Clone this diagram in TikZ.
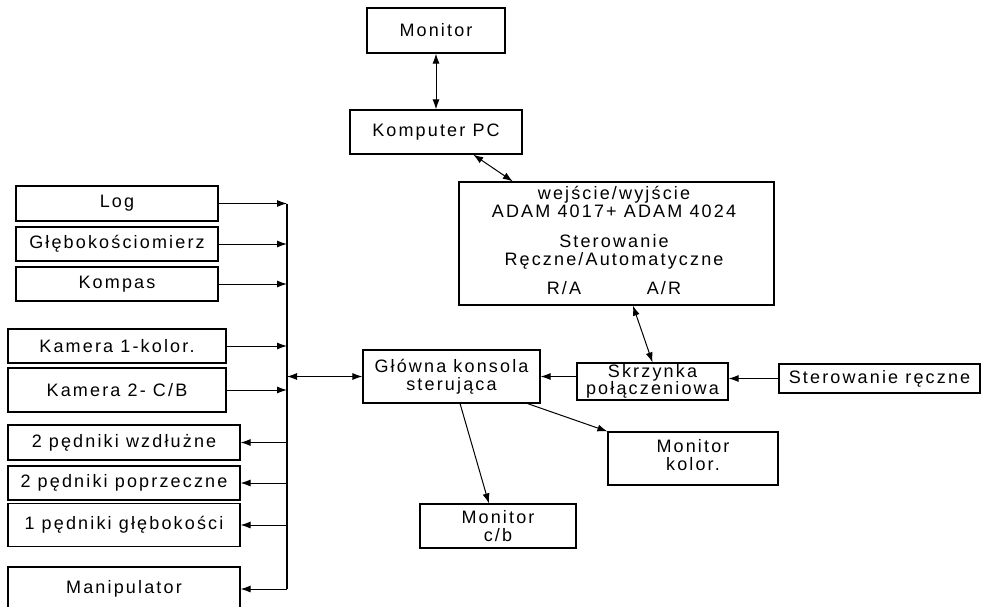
\documentclass[tikz,border=0pt]{standalone}
\usepackage{fontspec}
\setmainfont{Liberation Sans}[LetterSpace=12]
\usetikzlibrary{arrows.meta,calc}
\tikzset{
  box/.style={draw, line width=1.2pt, inner sep=0pt, align=center, font=\fontsize{18}{17.5}\selectfont},
  txt/.style={inner sep=0pt, font=\fontsize{18}{17.5}\selectfont},
  conn/.style={line width=1pt, -{Latex[length=10pt,width=7pt]}},
  biconn/.style={line width=1pt, {Latex[length=10pt,width=7pt]}-{Latex[length=10pt,width=7pt]}},
  busline/.style={line width=2pt}
}
\begin{document}
\begin{tikzpicture}[x=1pt,y=-1pt]
\clip (0,0) rectangle (982,607);
\fill[white] (0,0) rectangle (982,607);
% top chain
\node[box, minimum width=138, minimum height=45] (mon) at (436,30.5) {Monitor};
\node[box, minimum width=172, minimum height=44] (pc) at (436,132) {Komputer PC};
\node[box, minimum width=315, minimum height=123] (adam) at (616.5,243.5) {};
\node[txt, anchor=base] (t1) at (614,199) {wejście/wyjście};
\node[txt, anchor=base] (t2) at (614,217) {ADAM 4017+ ADAM 4024};
\node[txt, anchor=base] (t3) at (614,247) {Sterowanie};
\node[txt, anchor=base] (t4) at (614,265) {Ręczne/Automatyczne};
\node[txt, anchor=base] (ra) at (564,294) {R/A};
\node[txt, anchor=base] (ar) at (664,294) {A/R};
% middle row
\node[box, minimum width=177, minimum height=53] (glow) at (451.5,376.5) {Główna konsola\\sterująca};
\node[box, minimum width=151, minimum height=37] (skrz) at (652.5,381.5) {Skrzynka\\połączeniowa};
\node[box, minimum width=201, minimum height=29] (ster) at (879.5,378.5) {Sterowanie ręczne};
\node[box, minimum width=170, minimum height=53] (monk) at (693,458.5) {};
\node[txt, align=center] (monkt) at (693,455) {Monitor\\kolor.};
\node[box, minimum width=156, minimum height=44] (monc) at (498,526) {Monitor\\c/b};
% left column
\node[box, minimum width=202, minimum height=35] (log) at (117,203.5) {Log};
\node[box, minimum width=202, minimum height=34] (gleb) at (117,244) {Głębokościomierz};
\node[box, minimum width=202, minimum height=34] (komp) at (117,284) {Kompas};
\node[box, minimum width=218, minimum height=34] (kam1) at (117,346) {Kamera 1-kolor.};
\node[box, minimum width=218, minimum height=44] (kam2) at (117,390) {Kamera 2- C/B};
\node[box, minimum width=232, minimum height=35] (wzd) at (124,442.5) {2 pędniki wzdłużne};
\node[box, minimum width=232, minimum height=34] (pop) at (124,483) {2 pędniki poprzeczne};
\node[box, minimum width=232, minimum height=43] (glb) at (124,525) {1 pędniki głębokości};
\node[box, minimum width=232, minimum height=44] (manip) at (124,589) {Manipulator};
% bus
\coordinate (bus) at (287,0);
\draw[busline] (log.east -| bus) -- (manip.east -| bus);
\foreach \n in {log,gleb,komp,kam1,kam2}
  \draw[conn] (\n.east) -- (\n.east -| bus);
\foreach \n in {wzd,pop,glb,manip}
  \draw[conn] (\n.east -| bus) -- (\n.east);
\draw[biconn] (glow.west -| bus) -- (glow.west);
% connectors
\draw[biconn] (mon.south) -- (pc.north);
\draw[biconn] ($(pc.south west)!0.715!(pc.south east)$) -- ($(adam.north west)!0.172!(adam.north east)$);
\draw[biconn] ($(adam.south west)!0.552!(adam.south east)$) -- (skrz.north);
\draw[conn] (glow.east -| skrz.west) -- (glow.east);
\draw[conn] (ster.west) -- (ster.west -| skrz.east);
\draw[conn] ($(glow.south west)!0.927!(glow.south east)$) -- (monk.north west);
\draw[conn] ($(glow.south west)!0.548!(glow.south east)$) -- ($(monc.north west)!0.442!(monc.north east)$);
\end{tikzpicture}
\end{document}
